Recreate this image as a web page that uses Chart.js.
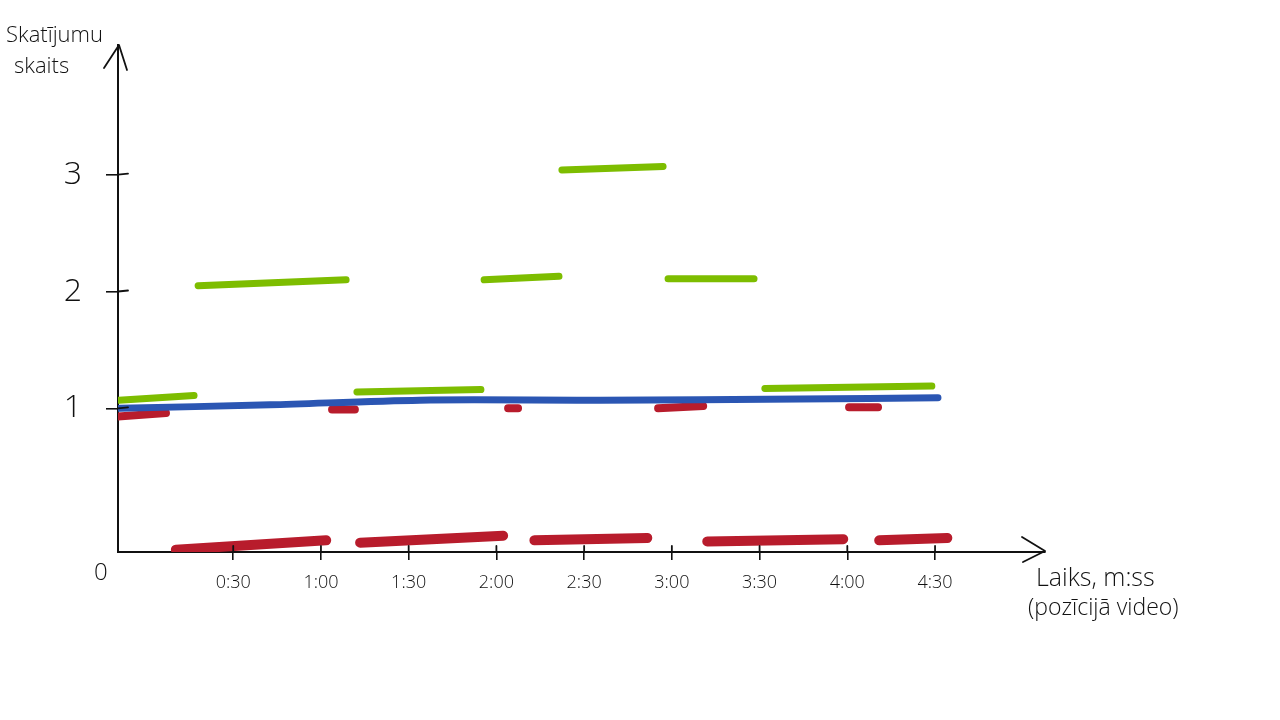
<!DOCTYPE html>
<html>
<head>
<meta charset="utf-8">
<script src="https://cdn.jsdelivr.net/npm/chart.js@4"></script>
<style>
  html, body { margin: 0; padding: 0; background: #fff; }
  #wrap { width: 1280px; height: 720px; position: relative; }
</style>
</head>
<body>
<div id="wrap"><canvas id="grafiks"></canvas></div>
<script>
// laiks sekundēs, vērtība = skatījumu skaits
// katrs nogrieznis: [t0, v0, t1, v1]
const greenSegments = [
  [-9.1, 1.07, 16.6, 1.11],
  [18.0, 2.05, 68.6, 2.10],
  [72.3, 1.14, 114.7, 1.16],
  [115.8, 2.10, 141.4, 2.13],
  [142.4, 3.04, 177.0, 3.07],
  [178.7, 2.11, 208.1, 2.11],
  [211.8, 1.17, 268.9, 1.19]
];
const blueTimes = [-8.7, 42.6, 93.8, 155.4, 223.8, 271.0];
const blueValues = [1.00, 1.03, 1.07, 1.07, 1.08, 1.09];
const redSegments = [
  [-9.4, 0.93, 7.0, 0.96],
  [63.8, 0.99, 71.6, 0.99],
  [124.0, 1.00, 127.4, 1.00],
  [175.3, 1.00, 190.7, 1.02],
  [240.6, 1.01, 250.5, 1.01]
];
const redBottomSegments = [
  [10.4, -0.21, 61.8, -0.13],
  [73.4, -0.15, 122.3, -0.09],
  [133.0, -0.13, 171.6, -0.11],
  [192.1, -0.14, 238.6, -0.12],
  [250.9, -0.13, 274.2, -0.11]
];
const xTickValues = [30, 60, 90, 120, 150, 180, 210, 240, 270];
const yTickValues = [1, 2, 3];

function segData(segs) {
  const out = [];
  segs.forEach(s => {
    out.push({x: s[0], y: s[1]});
    out.push({x: s[2], y: s[3]});
    out.push({x: s[2], y: null});
  });
  return out;
}

function mss(v) {
  const m = Math.floor(v / 60);
  const s = v % 60;
  return m + ':' + (s < 10 ? '0' : '') + s;
}

const hand = '"Open Sans", "DejaVu Sans", sans-serif';

const skice = {
  id: 'skice',
  afterDraw(chart) {
    const ctx = chart.ctx;
    const a = chart.chartArea;
    ctx.save();
    ctx.strokeStyle = '#111';
    ctx.lineWidth = 1.8;
    ctx.lineCap = 'round';
    ctx.lineJoin = 'round';
    // bultas
    ctx.beginPath();
    ctx.moveTo(a.left - 14, a.top + 23);
    ctx.lineTo(a.left + 1, a.top);
    ctx.lineTo(a.left + 9, a.top + 25);
    ctx.stroke();
    ctx.beginPath();
    ctx.moveTo(a.right - 23, a.bottom - 15);
    ctx.lineTo(a.right, a.bottom - 1);
    ctx.lineTo(a.right - 22, a.bottom + 10);
    ctx.stroke();
    // y iedaļas šķērso asi
    const ys = chart.scales.y;
    yTickValues.forEach(v => {
      const py = ys.getPixelForValue(v);
      ctx.beginPath();
      ctx.moveTo(a.left, py);
      ctx.lineTo(a.left + 10, py - 1);
      ctx.stroke();
    });
    const xs = chart.scales.x;
    xTickValues.forEach(v => {
      const px = xs.getPixelForValue(v);
      ctx.beginPath();
      ctx.moveTo(px, a.bottom);
      ctx.lineTo(px, a.bottom - 6);
      ctx.stroke();
    });
    // teksti
    ctx.fillStyle = '#111';
    ctx.textBaseline = 'alphabetic';
    ctx.textAlign = 'left';
    ctx.font = '300 22px ' + hand;
    ctx.fillText('Skatījumu', 6, 42);
    ctx.fillText('skaits', 14, 73);
    ctx.font = '300 24px ' + hand;
    ctx.fillText('0', a.left - 24, a.bottom + 28);
    ctx.font = '300 25px ' + hand;
    ctx.fillText('Laiks, m:ss', 1036, 586);
    ctx.font = '300 23px ' + hand;
    ctx.fillText('(pozīcijā video)', 1028, 615);
    ctx.restore();
  }
};

new Chart(document.getElementById('grafiks'), {
  type: 'line',
  data: {
    datasets: [
      {
        label: 'zaļš',
        data: segData(greenSegments),
        borderColor: '#7dbd00',
        borderWidth: 7
      },
      {
        label: 'zils',
        data: blueTimes.map((t, i) => ({x: t, y: blueValues[i]})),
        borderColor: '#2b56b3',
        borderWidth: 7,
        tension: 0.3
      },
      {
        label: 'sarkans',
        data: segData(redSegments),
        borderColor: '#b81c2c',
        borderWidth: 8
      },
      {
        label: 'sarkans apakšā',
        data: segData(redBottomSegments),
        borderColor: '#b81c2c',
        borderWidth: 10
      }
    ]
  },
  options: {
    responsive: true,
    maintainAspectRatio: false,
    animation: false,
    spanGaps: false,
    layout: { padding: { top: 45, right: 235, left: 0, bottom: 0 } },
    elements: {
      point: { radius: 0, hoverRadius: 0 },
      line: { borderCapStyle: 'round', borderJoinStyle: 'round', fill: false }
    },
    plugins: {
      legend: { display: false },
      tooltip: { enabled: false }
    },
    scales: {
      x: {
        type: 'linear',
        min: -9.4,
        max: 307.6,
        afterFit: s => { s.height = 720 - 552; },
        afterBuildTicks: s => { s.ticks = xTickValues.map(v => ({value: v})); },
        border: { display: true, color: '#111', width: 2 },
        grid: { drawOnChartArea: false, drawTicks: true, tickLength: 8, color: '#111', lineWidth: 1.6 },
        ticks: {
          color: '#111',
          padding: 12,
          maxRotation: 0,
          autoSkip: false,
          font: { size: 18, family: hand, weight: 300 },
          callback: v => mss(v)
        }
      },
      y: {
        type: 'linear',
        min: -0.23,
        max: 4.11,
        afterFit: s => { s.width = 118; },
        afterBuildTicks: s => { s.ticks = yTickValues.map(v => ({value: v})); },
        border: { display: true, color: '#111', width: 2 },
        grid: { drawOnChartArea: false, drawTicks: true, tickLength: 12, color: '#111', lineWidth: 1.6 },
        ticks: {
          color: '#111',
          padding: 24,
          font: { size: 32, family: hand, weight: 300 }
        }
      }
    }
  },
  plugins: [skice]
});
</script>
</body>
</html>
